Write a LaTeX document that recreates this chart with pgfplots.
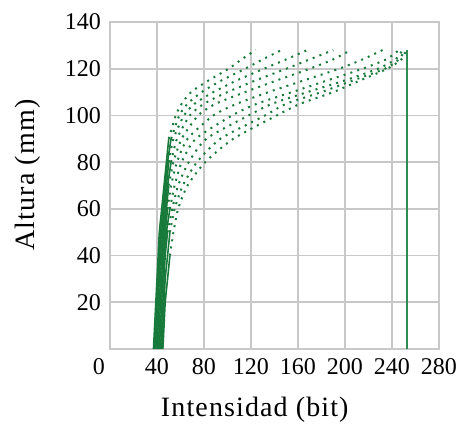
\documentclass[border=0pt]{standalone}
\usepackage{pgfplots}
\pgfplotsset{compat=1.18}
\usepackage{fontspec}
\setmainfont{Liberation Serif}
\newfontfamily\labfont[LetterSpace=4]{Liberation Serif}
\definecolor{curv}{RGB}{24,122,58}
\definecolor{vline}{RGB}{46,140,82}
\definecolor{gridc}{RGB}{200,200,200}
% steep lower part: dots merge into a line; flat upper part: sparse dots
\tikzset{
  low/.style={curv,line width=0.8pt,smooth,tension=0.4},
  up/.style={curv,line width=1pt,dash pattern=on 1pt off 2.6pt,smooth,tension=0.4},
}

\begin{document}
\begin{tikzpicture}
\useasboundingbox (-55pt,-39.5pt) rectangle (175.5pt,174.5pt);
\begin{axis}[
  scale only axis, width=164.5pt, height=163.5pt,
  xmin=0, xmax=280, ymin=0, ymax=140,
  xtick={0,40,...,280}, ytick={20,40,...,140},
  xticklabels={{\makebox[0pt][r]{0\hspace{2.5pt}}},40,80,120,160,200,240,280},
  grid=major, major grid style={gridc,line width=0.9pt},
  axis line style={gridc,line width=0.9pt},
  major tick length=0pt,
  /pgf/number format/assume math mode=true,
  tick label style={font=\fontsize{12}{12}\selectfont},
  xticklabel style={yshift=-1pt},
  yticklabel style={xshift=-1pt},
  xlabel={\labfont\fontsize{14}{14}\selectfont Intensidad (bit)},
  ylabel={\labfont\fontsize{14}{14}\selectfont Altura (mm)},
  xlabel style={at={(axis description cs:0.44,0)},anchor=center,yshift=-30.5pt},
  ylabel style={at={(axis description cs:0,0.532)},anchor=center,yshift=41pt},
  clip=false,
]
% profile 1
\addplot[low] coordinates {(37,0)(38,10)(39,20)(40,30)(41,40)(42,50)(44,60)(46,70)(48,80)(50,90)};
\addplot[up] coordinates {(50,90)(56,100)(61,105)(69,110)(84,115)(101,120)(112,124)(124,128)};
% profile 2
\addplot[low] coordinates {(38,0)(39,10)(40,20)(41,30)(42,40)(43,50)(45,60)(47,70)(49,80)(52,90)};
\addplot[up] coordinates {(52,90)(59,100)(66,105)(78,110)(95,115)(115,120)(130,124)(146,128)};
% profile 3
\addplot[low] coordinates {(38,0)(39,10)(40,20)(41,30)(42,40)(44,50)(46,60)(48,70)(50,80)};
\addplot[up] coordinates {(50,80)(54,90)(63,100)(72,105)(88,110)(108,115)(131,120)(150,124)(168,128)};
% profile 4
\addplot[low] coordinates {(39,0)(40,10)(41,20)(42,30)(43,40)(45,50)(47,60)(49,70)(52,80)};
\addplot[up] coordinates {(52,80)(57,90)(68,100)(80,105)(100,110)(124,115)(150,120)(170,124)(190,128)};
% profile 5
\addplot[low] coordinates {(40,0)(41,10)(42,20)(43,30)(44,40)(46,50)(48,60)(50,70)};
\addplot[up] coordinates {(50,70)(54,80)(61,90)(75,100)(90,105)(115,110)(142,115)(170,120)(190,124)(205,128)};
% profile 6
\addplot[low] coordinates {(41,0)(42,10)(43,20)(44,30)(45,40)(47,50)(49,60)};
\addplot[up] coordinates {(49,60)(52,70)(57,80)(66,90)(88,100)(108,105)(135,110)(165,115)(195,120)(215,124)(232,128)};
% profile 7
\addplot[low] coordinates {(42,0)(43,10)(44,20)(45,30)(46,40)(48,50)(51,60)};
\addplot[up] coordinates {(51,60)(55,70)(61,80)(73,90)(104,100)(125,105)(155,110)(185,115)(215,120)(235,124)(246,128)};
% profile 8
\addplot[low] coordinates {(43,0)(44,10)(45,20)(46,30)(47,40)(49,50)};
\addplot[up] coordinates {(49,50)(53,60)(58,70)(67,80)(82,90)(118,100)(138,105)(168,110)(200,115)(228,120)(243,124)(249,128)};
% profile 9
\addplot[low] coordinates {(44,0)(45,10)(46,20)(47,30)(49,40)(51,50)};
\addplot[up] coordinates {(51,50)(55,60)(62,70)(74,80)(94,90)(132,100)(150,105)(180,110)(207,115)(234,120)(246,124)(251,128)};
% profile 10
\addplot[low] coordinates {(45,0)(46,10)(47,20)(49,30)(51,40)};
\addplot[up] coordinates {(51,40)(54,50)(58,60)(66,70)(81,80)(105,90)(142,100)(162,105)(190,110)(213,115)(236,120)(248,124)(252,128)};
% saturation line
\addplot[vline,line width=1pt] coordinates {(253,0)(253,128)};
\end{axis}
\end{tikzpicture}
\end{document}
